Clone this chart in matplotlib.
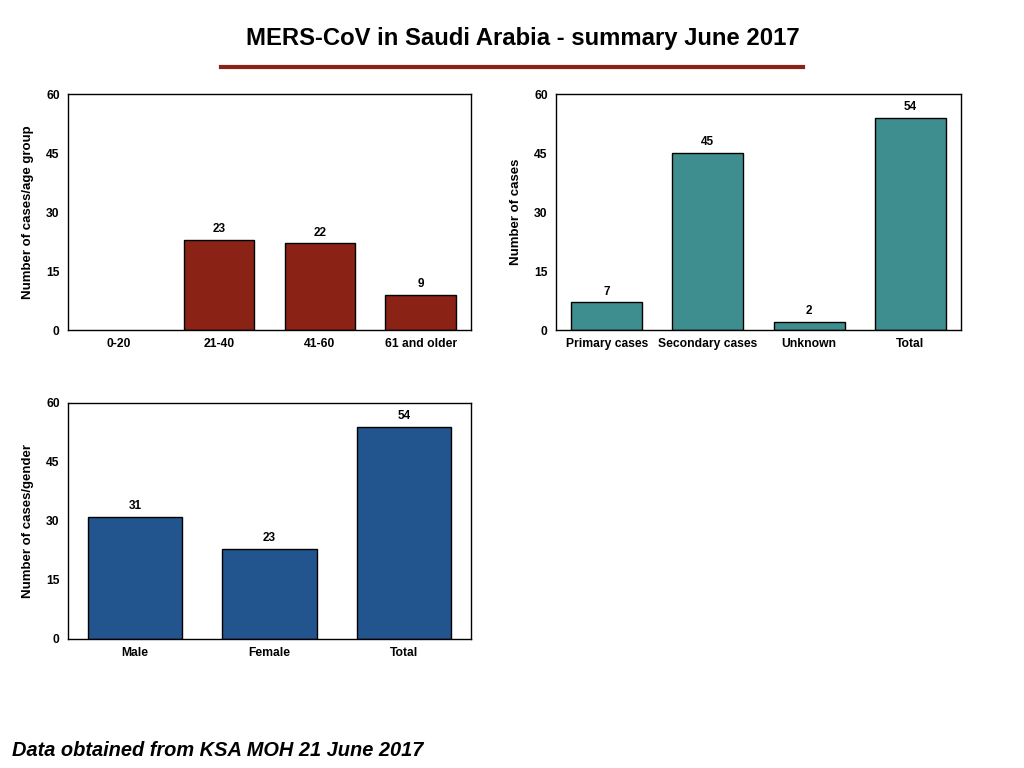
import matplotlib.pyplot as plt
import numpy as np

plt.rcParams['font.family'] = ['Liberation Sans', 'DejaVu Sans']
plt.rcParams['font.weight'] = 'bold'

age_groups = ['0-20', '21-40', '41-60', '61 and older']
age_cases = [0, 23, 22, 9]

case_types = ['Primary cases', 'Secondary cases', 'Unknown', 'Total']
type_cases = [7, 45, 2, 54]

genders = ['Male', 'Female', 'Total']
gender_cases = [31, 23, 54]

yticks = [0, 15, 30, 45, 60]

fig = plt.figure(figsize=(10.24, 7.68), dpi=100)
fig.patch.set_facecolor('white')


def bar_panel(rect, cats, vals, color, ylabel):
    ax = fig.add_axes(rect)
    x = np.arange(len(cats))
    bars = ax.bar(x, vals, width=0.7, color=color, edgecolor='black', linewidth=1)
    for b, v in zip(bars, vals):
        if v > 0:
            ax.text(b.get_x() + b.get_width() / 2, v + 1.2, str(v),
                    ha='center', va='bottom', fontsize=8.5, fontweight='bold')
        else:
            # empty category: no outline in the original
            b.set_linewidth(0)
    ax.set_xlim(-0.5, len(cats) - 0.5)
    ax.set_ylim(0, 60)
    ax.set_yticks(yticks)
    ax.set_xticks(x)
    ax.set_xticklabels(cats)
    ax.tick_params(length=0, labelsize=8.7, pad=6)
    for lab in ax.get_xticklabels() + ax.get_yticklabels():
        lab.set_fontweight('bold')
    ax.set_ylabel(ylabel, fontsize=9.5, fontweight='bold', labelpad=9)
    for s in ax.spines.values():
        s.set_linewidth(1)
    return ax


bar_panel([0.0664, 0.5703, 0.3936, 0.3073], age_groups, age_cases, '#8a2215', 'Number of cases/age group')
bar_panel([0.5430, 0.5703, 0.3955, 0.3073], case_types, type_cases, '#3f8e8f', 'Number of cases')
bar_panel([0.0664, 0.1680, 0.3936, 0.3073], genders, gender_cases, '#22548e', 'Number of cases/gender')

fig.text(0.5107, 0.950, 'MERS-CoV in Saudi Arabia - summary June 2017',
         ha='center', va='center', fontsize=17.2, fontweight='bold')
fig.add_artist(plt.Line2D([221 / 1024, 803 / 1024], [1 - 67 / 768, 1 - 67 / 768],
                          color='#8a2215', linewidth=3))
fig.text(12 / 1024, 1 - 751 / 768, 'Data obtained from KSA MOH 21 June 2017',
         ha='left', va='center', fontsize=14.4, fontweight='bold', fontstyle='italic')

fig.savefig('out.png', dpi=100)
